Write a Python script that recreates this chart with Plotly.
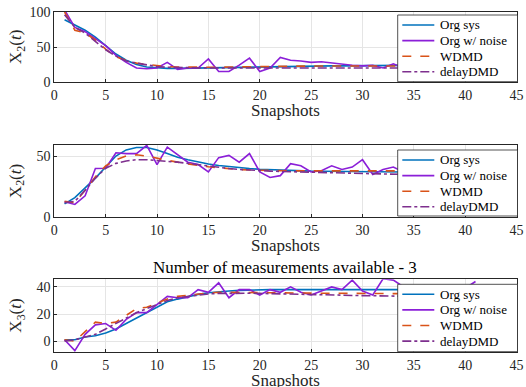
import plotly.graph_objects as go

# ---------------- data ----------------
x_main = list(range(1, 35))

# Panel 1
p1_sys = [89, 82, 74, 64, 52, 40, 31, 25, 21.5, 20, 19.5, 19.5, 19.8, 20, 20.2, 20.5, 20.8, 21, 21.3, 21.6,
          21.9, 22.1, 22.3, 22.5, 22.7, 22.9, 23, 23.1, 23.2, 23.3, 23.4, 23.5, 23.6, 23.7]
p1_noise = [103, 78, 72, 62, 52, 38, 28, 20, 19, 20, 28, 18, 20, 20, 33, 15, 15, 24, 34, 15,
            20, 35, 31, 30, 28, 29, 27, 26, 24, 23, 24, 20, 26, 20]
p1_wdmd = [100, 74, 70, 60, 47, 36, 31, 27, 25, 23, 22, 21.5, 21, 21, 21, 21.2, 21.5, 21.8, 22, 22.2,
           22.4, 22.5, 22.6, 22.7, 22.8, 22.8, 22.8, 22.8, 22.8, 22.8, 22.8, 22.8, 22.8, 22.8]
p1_delay = [96, 78, 70, 58, 46, 37, 30, 27, 24, 22, 21, 20.5, 20.2, 20, 20, 20, 20, 20, 20, 20,
            20, 20, 20, 20, 20, 20, 20, 20, 20, 20, 20, 20, 20, 20]

# Panel 2
p2_sys = [11, 16, 24, 32, 41, 50, 55, 57, 57, 55, 52, 49, 47, 45, 43.5, 42.3, 41.3, 40.5, 39.8, 39.2,
          38.8, 38.4, 38.1, 37.9, 37.7, 37.6, 37.5, 37.4, 37.3, 37.2, 37.2, 37.1, 37.1, 37]
p2_noise = [12.7, 10.5, 17.5, 39.8, 40, 52.7, 52, 52, 58.7, 43, 57.3, 51, 45, 43, 37, 48.7, 50.5, 45, 52, 37,
            32.5, 34, 43.8, 42, 37, 38, 42, 39, 41, 47, 35, 39, 41, 37]
p2_wdmd = [13, 12, 22, 33, 42, 47, 50, 51, 50, 48, 46.5, 45, 43.5, 42.3, 41.2, 40.3, 39.6, 39, 38.6, 38.3,
           38.1, 38, 37.9, 37.9, 37.9, 37.9, 37.9, 37.9, 37.9, 37.9, 37.9, 37.9, 37.9, 37.9]
p2_delay = [12, 13, 22, 32, 40, 44, 46, 47, 47, 46.5, 45.8, 45, 44, 42.8, 41.6, 40.6, 39.8, 39.1, 38.5, 38,
            37.7, 37.4, 37.2, 37, 36.8, 36.6, 36.4, 36.2, 36, 35.8, 35.6, 35.4, 35.2, 35]

# Panel 3
x_p3_noise = list(range(1, 42))
p3_sys = [1, 1, 3, 4, 6, 9, 13, 17, 21, 25, 29, 31, 33, 34.5, 35.7, 36.5, 37, 37.4, 37.7, 37.9,
          38, 38, 38, 38, 38, 38, 38, 38, 38, 38, 38, 38, 38, 38]
p3_noise = [1, -7, 5, 12, 13, 8, 16, 21, 21, 27, 33, 32, 32, 38, 36, 43, 32, 38, 38, 34,
            38, 36, 40, 36, 34, 37, 40, 38, 45, 37, 34, 46, 45, 40, 38, 41, 39, 40, 38, 39, 44]
p3_wdmd = [1, 0, 7, 14, 13, 14, 19, 24, 25, 28, 31, 33, 34, 35, 35.5, 36, 36, 36, 36, 36,
           35.8, 35.7, 35.6, 35.5, 35.4, 35.3, 35.2, 35.1, 35.1, 35, 35, 35, 35, 35]
p3_delay = [0, 1, 3, 5, 9, 13, 17, 21, 24, 27, 30, 32, 33, 34, 34.8, 35.2, 35.4, 35.4, 35.3, 35.2,
            35.1, 35, 34.9, 34.7, 34.5, 34.3, 34.1, 33.9, 33.7, 33.5, 33.4, 33.3, 33.2, 33.1]

x_ticks = [0, 5, 10, 15, 20, 25, 30, 35, 40, 45]
names = ["Org sys", "Org w/ noise", "WDMD", "delayDMD"]
title_text = "Number of measurements available - 3"
x_title = "Snapshots"
y_titles = ["X<sub>2</sub>(<i>t</i>)", "X<sub>2</sub>(<i>t</i>)", "X<sub>3</sub>(<i>t</i>)"]

colors = ["#0072BD", "#8B1FD8", "#D95319", "#7E2F8E"]
dashes = ["solid", "solid", "dash", "dashdot"]

panels = [
    (x_main, p1_sys, x_main, p1_noise, p1_wdmd, p1_delay),
    (x_main, p2_sys, x_main, p2_noise, p2_wdmd, p2_delay),
    (x_main, p3_sys, x_p3_noise, p3_noise, p3_wdmd, p3_delay),
]

fig = go.Figure()
W, H = 526, 387
FONT = "Liberation Serif"
INK = "#262626"

for i, (xs, sys_, xn, noise, wdmd, delay) in enumerate(panels):
    k = "" if i == 0 else str(i + 1)
    series = [(xs, sys_), (xn, noise), (xs, wdmd), (xs, delay)]
    for j, (xx, yy) in enumerate(series):
        fig.add_trace(go.Scatter(
            x=xx, y=yy, mode="lines", name=names[j], showlegend=False,
            line=dict(color=colors[j], width=1.6, dash=dashes[j]),
            xaxis="x" + k, yaxis="y" + k,
        ))

# geometry (pixels)
ax_left, ax_right = 54.3, 516.6
boxes = [(12, 82), (145, 217.3), (279.3, 352)]
yranges = [[0, 100], [0, 59], [-8, 45.6]]
yticks = [[0, 50, 100], [0, 50], [0, 20, 40]]
leg_boxes = [(15, 81.7), (150, 216), (284.3, 351.7)]
leg_x0, leg_x1 = 397.7, 517.5

axis_common = dict(
    showline=True, linecolor=INK, linewidth=0.8, mirror=True,
    showgrid=True, gridcolor="#e5e5e5", gridwidth=1,
    ticks="inside", ticklen=3, tickcolor=INK,
    tickfont=dict(family=FONT, size=14, color=INK),
    zeroline=False, automargin=False,
)

layout = dict(
    width=W, height=H, margin=dict(l=0, r=0, t=0, b=0, autoexpand=False),
    paper_bgcolor="white", plot_bgcolor="white",
    font=dict(family=FONT, color=INK),
    showlegend=False,
)

shapes = []
annotations = []

def px(xp):
    return xp / W

def py(yp):
    return 1 - yp / H

for i in range(3):
    k = "" if i == 0 else str(i + 1)
    top, bot = boxes[i]
    layout["xaxis" + k] = dict(
        axis_common, domain=[px(ax_left), px(ax_right)],
        range=[0, 45], tickvals=x_ticks, anchor="y" + k,
    )
    layout["yaxis" + k] = dict(
        axis_common, domain=[py(bot), py(top)],
        range=yranges[i], tickvals=yticks[i], anchor="x" + k,
    )
    annotations.append(dict(
        text=x_title, x=px((ax_left + ax_right) / 2), y=py(bot + 28),
        xref="paper", yref="paper", showarrow=False,
        font=dict(family=FONT, size=17, color=INK), xanchor="center", yanchor="middle",
    ))
    annotations.append(dict(
        text=y_titles[i], x=px(17), y=py((top + bot) / 2),
        xref="paper", yref="paper", showarrow=False, textangle=-90,
        font=dict(family=FONT, size=17, color=INK), xanchor="center", yanchor="middle",
    ))
    lt, lb = leg_boxes[i]
    shapes.append(dict(
        type="rect", xref="paper", yref="paper", layer="above",
        x0=px(leg_x0), x1=px(leg_x1), y0=py(lb), y1=py(lt),
        fillcolor="white", line=dict(color=INK, width=0.8),
    ))
    for j in range(4):
        yy = lt + 10 + j * 15.6
        shapes.append(dict(
            type="line", xref="paper", yref="paper", layer="above",
            x0=px(402.3), x1=px(434.3), y0=py(yy), y1=py(yy),
            line=dict(color=colors[j], width=1.6, dash=dashes[j]),
        ))
        annotations.append(dict(
            text=names[j], x=px(437.5), y=py(yy), xref="paper", yref="paper",
            showarrow=False, xanchor="left", yanchor="middle",
            font=dict(family=FONT, size=13, color="#000000"),
        ))

annotations.append(dict(
    text=title_text, x=px((ax_left + ax_right) / 2), y=py(267), xref="paper", yref="paper",
    showarrow=False, font=dict(family=FONT, size=17, color="#000000"),
    xanchor="center", yanchor="middle",
))

layout["shapes"] = shapes
layout["annotations"] = annotations
fig.update_layout(**layout)

fig.write_html(
    "out.html",
    config={"displayModeBar": False},
    post_script="document.body.style.margin='0px';document.body.style.overflow='hidden';",
)
